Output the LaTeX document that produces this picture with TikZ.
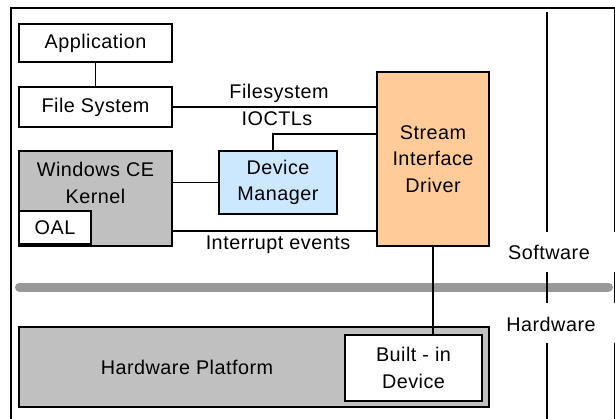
\documentclass[tikz,border=0pt]{standalone}
\usepackage{fontspec}
\setmainfont{Liberation Sans}[LetterSpace=2.5]
\definecolor{boxgray}{HTML}{C0C0C0}
\definecolor{bargray}{HTML}{999999}
\definecolor{dmblue}{HTML}{CCE8FF}
\definecolor{sidorange}{HTML}{FFCC99}
\begin{document}
\begin{tikzpicture}[x=1pt,y=-1pt,
  font=\fontsize{19.8}{26.5}\selectfont,
  blk/.style={draw=black, line width=1.8pt, fill=white, inner sep=0pt, align=center},
  conn/.style={draw=black, line width=1.7pt},
  lbl/.style={inner sep=0pt, align=center}]
\useasboundingbox (0,0) rectangle (615,418);
\clip (0,0) rectangle (615,418);
\fill[white] (0,0) rectangle (615,418);
% frame
\draw[line width=1.8pt] (11,440) -- (11,8) -- (614.5,8) -- (614.5,232);
\draw[line width=1.8pt] (614.5,272) -- (614.5,303);
\draw[line width=1.8pt] (614.5,343) -- (614.5,440);
% gray bar
\draw[bargray, line width=9pt, line cap=round] (19.5,287) -- (608.5,287);
% divider
\draw[line width=1.7pt] (547,12) -- (547,232);
\draw[line width=1.7pt] (547,272) -- (547,303);
\draw[line width=1.7pt] (547,343) -- (547,440);
% nodes
\node[blk, minimum width=153pt, minimum height=38pt] (app) at (95.5,43) {Application};
\node[blk, minimum width=153pt, minimum height=40pt] (fs) at (95.5,107) {File System};
\node[blk, fill=boxgray, minimum width=153pt, minimum height=95pt] (ker) at (95.5,198.5) {};
\node[lbl] (kertxt) at (95.5,183) {Windows CE\\Kernel};
\node[blk, minimum width=72pt, minimum height=33pt] (oal) at (55,227.5) {OAL};
\node[blk, fill=dmblue, minimum width=118pt, minimum height=63pt] (dm) at (278,182.5) {Device\\Manager};
\node[blk, fill=sidorange, minimum width=112pt, minimum height=174pt] (sid) at (433,159) {Stream\\Interface\\Driver};
\node[blk, fill=boxgray, minimum width=470pt, minimum height=80pt] (hwp) at (254,367) {};
\node[lbl] (hwptxt) at (187,367) {Hardware Platform};
\node[blk, minimum width=137pt, minimum height=66pt] (bid) at (413.5,368) {Built - in\\Device};
% connectors
\draw[conn] (app.south) -- (fs.north);
\draw[conn] (fs.east) -- (fs.east -| sid.west);
\draw[conn] ([xshift=-5pt]dm.north) |- ([yshift=25pt]sid.west);
\draw[conn] (dm.west) -- (dm.west -| ker.east);
\draw[conn] ([yshift=-32.5pt]ker.east) -- ([yshift=-32.5pt]ker.east -| sid.west);
\draw[conn] (sid.south) -- (sid.south |- bid.north);
% labels
\node[lbl] (l1) at (279,93) {Filesystem};
\node[lbl] (l2) at (277,119) {IOCTLs};
\node[lbl] (l3) at (278,245) {Interrupt events};
\node[lbl] (sw) at (549,252) {Software};
\node[lbl] (hw) at (551,324) {Hardware};
\end{tikzpicture}
\end{document}
